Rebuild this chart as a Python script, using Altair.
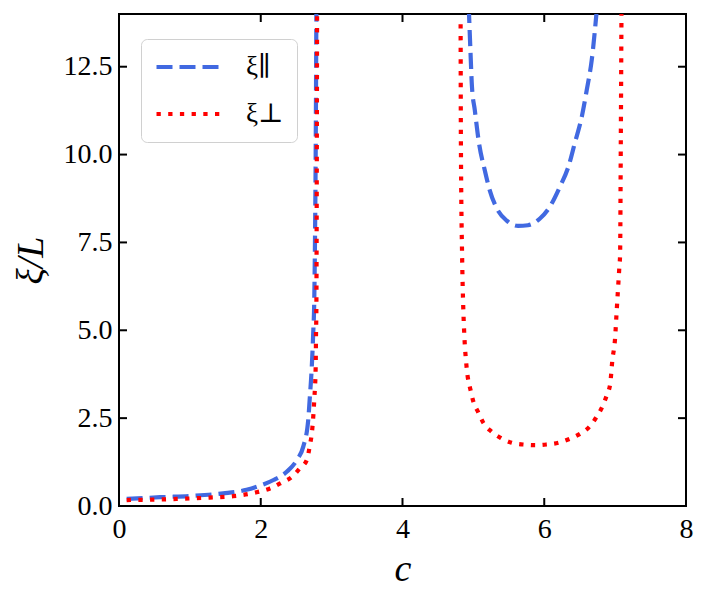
import altair as alt
import pandas as pd

# ---- data ----
par_c1 = [0.108, 0.58, 1.05, 1.47, 1.80, 1.99, 2.18, 2.37, 2.51, 2.60, 2.67, 2.69, 2.72, 2.74, 2.755, 2.765, 2.775, 2.785]
par_v1 = [0.20, 0.25, 0.29, 0.36, 0.46, 0.58, 0.74, 0.98, 1.31, 1.69, 2.45, 3.02, 3.96, 4.91, 5.86, 7.5, 10.0, 14.2]
par_c2 = [4.935, 4.96, 4.98, 5.02, 5.08, 5.16, 5.23, 5.33, 5.47, 5.63, 5.77, 5.94, 6.08, 6.22, 6.34, 6.43, 6.53, 6.60, 6.67, 6.745]
par_v2 = [14.2, 12.88, 11.93, 11.27, 10.32, 9.56, 8.99, 8.47, 8.12, 7.97, 7.99, 8.18, 8.52, 9.08, 9.65, 10.32, 11.08, 11.84, 12.69, 14.2]

perp_c1 = [0.108, 0.81, 1.28, 1.61, 1.94, 2.13, 2.29, 2.44, 2.55, 2.65, 2.69, 2.73, 2.755, 2.775, 2.78, 2.785, 2.79, 2.795]
perp_v1 = [0.17, 0.20, 0.24, 0.28, 0.39, 0.50, 0.66, 0.83, 1.07, 1.31, 1.69, 2.26, 3.02, 3.96, 4.91, 5.67, 9.0, 14.2]
perp_c2 = [4.82, 4.824, 4.842, 4.857, 4.87, 4.904, 4.96, 5.00, 5.07, 5.14, 5.26, 5.39, 5.54, 5.70, 5.88, 6.03, 6.20, 6.36,
           6.51, 6.64, 6.74, 6.82, 6.88, 6.93, 6.96, 7.00, 7.02, 7.04, 7.06, 7.07, 7.08, 7.09]
perp_v2 = [13.71, 10.32, 7.0, 5.67, 4.96, 3.96, 3.30, 2.97, 2.66, 2.37, 2.11, 1.93, 1.80, 1.75, 1.73, 1.75, 1.80, 1.91,
           2.06, 2.26, 2.54, 2.83, 3.14, 3.47, 4.13, 4.79, 5.48, 6.15, 6.81, 7.14, 10.32, 14.2]

series_names = ["ξ∥", "ξ⊥"]
x_ticks = [0, 2, 4, 6, 8]
y_ticks = [0.0, 2.5, 5.0, 7.5, 10.0, 12.5]

rows = []
for name, branch, cs, vs in [
    (series_names[0], "a", par_c1, par_v1),
    (series_names[0], "b", par_c2, par_v2),
    (series_names[1], "a", perp_c1, perp_v1),
    (series_names[1], "b", perp_c2, perp_v2),
]:
    for i, (c, v) in enumerate(zip(cs, vs)):
        rows.append({"series": name, "branch": name + branch, "c": c, "v": v, "i": i})
df = pd.DataFrame(rows)
xt = pd.DataFrame({"c": x_ticks})
yt = pd.DataFrame({"v": y_ticks})

W, H = 567, 492
FONT = "'Liberation Serif', 'DejaVu Serif', serif"
TL = 8

xscale = alt.Scale(domain=[0, 8], nice=False, zero=False)
yscale = alt.Scale(domain=[0, 14], nice=False, zero=False)
xaxis = alt.Axis(values=x_ticks, format="d", title="c", tickSize=0, domain=False, grid=False,
                 labelPadding=9, labelOverlap=False, labelFlush=False, labelBound=False,
                 titleFontStyle="italic", titleFontSize=38, titleBaseline="alphabetic", titleY=74)
yaxis = alt.Axis(values=y_ticks, format=".1f", title="ξ/L", tickSize=0, domain=False, grid=False,
                 labelPadding=7, labelOverlap=False, labelFlush=False, labelBound=False,
                 titleFontStyle="italic", titleFontSize=38, titleBaseline="alphabetic",
                 titleAngle=-90, titleX=-77, titleY=246, titleAlign="center")

lines = alt.Chart(df).mark_line(clip=True, strokeWidth=4.2, interpolate="monotone").encode(
    x=alt.X("c:Q", scale=xscale, axis=xaxis),
    y=alt.Y("v:Q", scale=yscale, axis=yaxis),
    color=alt.Color("series:N", scale=alt.Scale(domain=series_names, range=["#4169E1", "#FF0000"]),
                    legend=alt.Legend(title=None)),
    strokeDash=alt.StrokeDash("series:N", scale=alt.Scale(domain=series_names, range=[[16, 7], [4.3, 7.4]]),
                              legend=alt.Legend(title=None)),
    detail="branch:N",
    order="i:Q",
)

tick_style = dict(color="black", strokeWidth=2)
bottom = alt.Chart(xt).mark_rule(**tick_style).encode(
    x=alt.X("c:Q", scale=xscale, axis=xaxis), y=alt.value(H), y2=alt.value(H - TL))
top = alt.Chart(xt).mark_rule(**tick_style).encode(
    x=alt.X("c:Q", scale=xscale, axis=xaxis), y=alt.value(0), y2=alt.value(TL))
left = alt.Chart(yt).mark_rule(**tick_style).encode(
    y=alt.Y("v:Q", scale=yscale, axis=yaxis), x=alt.value(0), x2=alt.value(TL))
right = alt.Chart(yt).mark_rule(**tick_style).encode(
    y=alt.Y("v:Q", scale=yscale, axis=yaxis), x=alt.value(W), x2=alt.value(W - TL))

chart = alt.layer(lines, bottom, top, left, right).properties(
    width=W, height=H,
    autosize=alt.AutoSizeParams(type="none"),
    padding={"left": 111, "top": 6, "right": 10, "bottom": 85},
).configure(
    font=FONT
).configure_view(
    stroke="black", strokeWidth=2
).configure_axis(
    labelFont=FONT, titleFont=FONT, labelFontSize=28, labelColor="black", titleColor="black",
    titleFontWeight="normal",
).configure_legend(
    orient="none", legendX=22, legendY=25,
    padding=13, cornerRadius=6, strokeColor="#d0d0d0", fillColor="white",
    symbolType="stroke", symbolSize=4225, symbolStrokeWidth=4.2, symbolOffset=0,
    clipHeight=30,
    labelFont=FONT, labelFontSize=27, labelOffset=22, labelColor="black",
    rowPadding=17, labelLimit=200,
)

chart.save("out.html", embed_options={"renderer": "svg", "actions": False})
